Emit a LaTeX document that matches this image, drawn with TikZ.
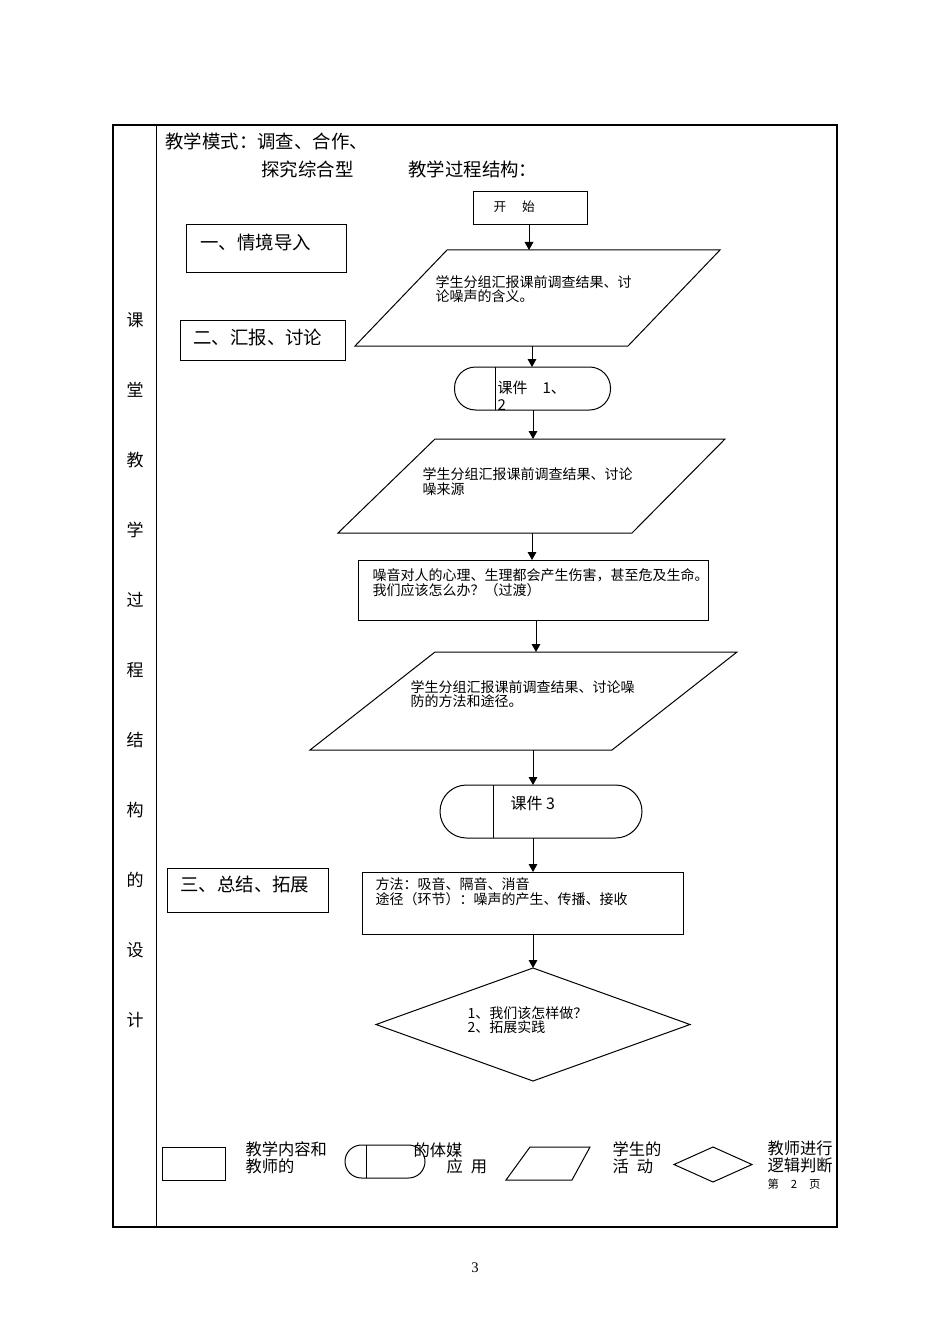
\documentclass[tikz,border=0pt]{standalone}
\usepackage{fontspec}
\setmainfont{Liberation Serif}
\newfontfamily\cjk{Noto Sans CJK SC}
\usetikzlibrary{arrows.meta,shapes.geometric,calc}
\begin{document}
\begin{tikzpicture}[x=0.75pt,y=-0.75pt,line width=0.75pt,
  shapebox/.style={draw,rectangle,inner sep=0pt,outer sep=0pt},
  dbox/.style={draw,diamond,inner sep=0pt,outer sep=0pt},
  arr/.style={-{Triangle[length=6pt,width=6.5pt]}},
  ttl/.style={inner sep=0pt,anchor=west,font=\cjk\fontsize{13.8}{16}\selectfont},
  ct/.style={inner sep=0pt,anchor=west,align=left,font=\cjk\fontsize{10.5}{11}\selectfont},
  lg/.style={inner sep=0pt,anchor=west,align=left,font=\cjk\fontsize{12.2}{12.5}\selectfont},
  side/.style={inner sep=0pt,font=\cjk\fontsize{12.75}{14}\selectfont}]
\useasboundingbox (0,0) rectangle (950,1344);
% frame
\draw[line width=1.5pt] (113,125) rectangle (837,1227);
\draw (156,125) -- (156,1227);
\foreach \c [count=\i] in {课,堂,教,学,过,程,结,构,的,设,计}
  \node[side] (lc\i) at (135,{250+70*\i}) {\c};
% title
\node[ttl] (mode) at (165,141) {教学模式：调查、合作、};
\node[ttl] (mode2) at (261,169) {探究综合型};
\node[ttl] (struct) at (408,169) {教学过程结构：};
% start
\node[shapebox,minimum width=85.5pt,minimum height=24.75pt] (start) at (530,208.5) {};
\node[inner sep=0pt,anchor=west,font=\cjk\fontsize{9.5}{10}\selectfont] (starttxt) at (493,207) {开\hspace{12pt}始};
% section labels
\node[shapebox,minimum width=120pt,minimum height=36pt] (sec1) at (266,249) {};
\node[ttl] (sec1t) at (200,242) {一、情境导入};
\node[shapebox,minimum width=123.75pt,minimum height=30pt] (sec2) at (262.5,340) {};
\node[ttl] (sec2t) at (193,338) {二、汇报、讨论};
\node[shapebox,minimum width=120.75pt,minimum height=33pt] (sec3) at (247.5,890) {};
\node[ttl] (sec3t) at (180,884) {三、总结、拓展};
% parallelogram 1
\draw (447,250) -- (720,250) -- (628,346) -- (355,346) -- cycle;
\coordinate (p1t) at (529,250);
\coordinate (p1b) at (532,346);
\node[ct] (p1txt) at (435,289) {学生分组汇报课前调查结果、讨\\论噪声的含义。};
\draw[arr] (p1t |- start.south) -- (p1t);
% courseware 1
\node[shapebox,rounded corners=15.75pt,minimum width=117pt,minimum height=32.25pt] (k1) at (532.5,388.5) {};
\draw ([xshift=30.75pt]k1.north west) -- ([xshift=30.75pt]k1.south west);
\node[inner sep=0pt,anchor=west,align=left,font=\cjk\fontsize{11.25}{12.75}\selectfont] (k1t) at (497,396) {课件\quad 1、\\2};
\draw[arr] (p1b) -- (p1b |- k1.north);
% parallelogram 2
\draw (435,439) -- (725,439) -- (632,533) -- (338,533) -- cycle;
\coordinate (p2t) at (533,439);
\coordinate (p2b) at (532,533);
\draw[arr] (p2t |- k1.south) -- (p2t);
\node[ct] (p2txt) at (422,481.5) {学生分组汇报课前调查结果、讨论\\噪来源};
% rect 1
\node[shapebox,minimum width=262.5pt,minimum height=45pt] (r1) at (533,590) {};
\draw[arr] (p2b) -- (p2b |- r1.north);
\node[ct] (r1txt) at (372,583) {噪音对人的心理、生理都会产生伤害，甚至危及生命。\\我们应该怎么办？（过渡）};
% parallelogram 3
\draw (435,652) -- (737,652) -- (612,750) -- (310,750) -- cycle;
\coordinate (p3t) at (536,652);
\coordinate (p3b) at (533,750);
\draw[arr] (p3t |- r1.south) -- (p3t);
\node[ct] (p3txt) at (410,694) {学生分组汇报课前调查结果、讨论噪\\防的方法和途径。};
% courseware 3
\node[shapebox,rounded corners=19.875pt,minimum width=151.5pt,minimum height=39.75pt] (k2) at (541,811.5) {};
\draw ([xshift=39.75pt]k2.north west) -- ([xshift=39.75pt]k2.south west);
\node[inner sep=0pt,anchor=west,font=\cjk\fontsize{12}{13}\selectfont] (k2t) at (510,803) {课件 3};
\draw[arr] (p3b) -- (p3b |- k2.north);
% rect 2
\node[shapebox,minimum width=240.75pt,minimum height=46.5pt] (r2) at (522.5,903) {};
\draw[arr] (p3b |- k2.south) -- (p3b |- r2.north);
\node[ct] (r2txt) at (375,892) {方法：吸音、隔音、消音\\途径（环节）：噪声的产生、传播、接收};
% decision
\node[dbox,minimum width=235.5pt,minimum height=84.75pt] (dec) at (533,1024.5) {};
\draw[arr] (dec.north |- r2.south) -- (dec.north);
\node[ct] (dectxt) at (467,1020) {1、我们该怎样做？\\2、拓展实践};
% legend
\node[shapebox,minimum width=47.25pt,minimum height=24.75pt] (lg1) at (193.5,1163.5) {};
\node[lg] (lg1t) at (245,1158) {教学内容和\\教师的};
\node[shapebox,rounded corners=12.375pt,minimum width=60pt,minimum height=24.75pt] (lg2) at (385,1161.5) {};
\draw ([xshift=15.75pt]lg2.north west) -- ([xshift=15.75pt]lg2.south west);
\node[lg] (lg2a) at (413,1150) {的体媒};
\node[lg] (lg2b) at (446,1166) {应\hspace{6pt}用};
\draw (530,1147) -- (590,1147) -- (572,1180) -- (506,1180) -- cycle;
\node[lg] (lg3t) at (612,1158) {学生的\\活\hspace{6pt}动};
\node[dbox,minimum width=58.5pt,minimum height=26.25pt] (lg4) at (713,1164.5) {};
\node[lg] (lg4t) at (767,1157) {教师进行\\逻辑判断};
\begin{scope}
  \clip (760,1172) rectangle (836,1188);
  \node[inner sep=0pt,anchor=west,font=\cjk\fontsize{8.5}{9}\selectfont] (pg2) at (767,1184) {第\hspace{9pt}2\hspace{9pt}页};
\end{scope}
\node[inner sep=0pt,font=\fontsize{11}{12}\selectfont] (pnum) at (475,1268) {3};
\end{tikzpicture}
\end{document}
